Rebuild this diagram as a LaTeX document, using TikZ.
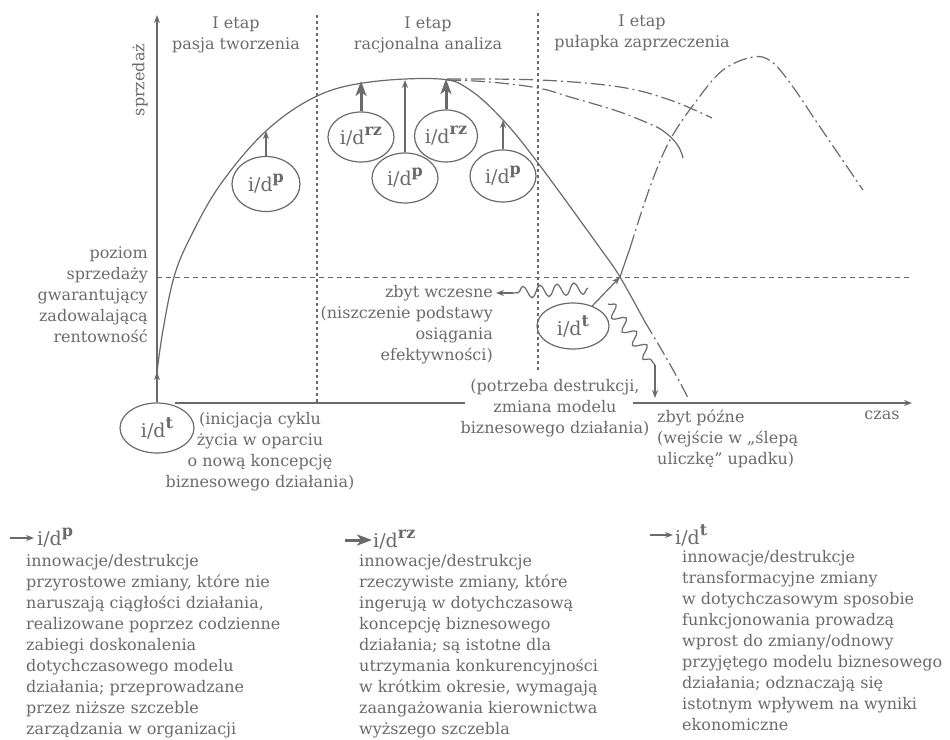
\documentclass[tikz,border=0pt]{standalone}
\usepackage{fontspec}
\setmainfont{DejaVu Serif}
\usetikzlibrary{arrows.meta,shapes.geometric,decorations.pathmorphing}
\definecolor{ink}{HTML}{6A6A6A}
\newcommand{\idlab}[1]{i/d\raisebox{9pt}{\fontsize{16}{16}\selectfont\bfseries #1}}
\begin{document}
\begin{tikzpicture}[x=1pt,y=-1pt,
  every node/.style={text=ink, font=\fontsize{16}{21}\selectfont, inner sep=0pt},
  line/.style={draw=ink, line width=1.2pt},
  oval/.style={ellipse, draw=ink, line width=1.2pt, font=\fontsize{19}{19}\selectfont, inner sep=0pt},
  idhead/.style={font=\fontsize{19}{19}\selectfont, anchor=west},
  tip/.style={arrows={-Stealth[length=8pt,width=6pt]}},
  bigtip/.style={draw=ink, line width=3pt, arrows={-Stealth[length=15pt,width=11pt,inset=4pt]}},
  dashdot/.style={dash pattern=on 14pt off 4pt on 2pt off 4pt},
  dotline/.style={draw=ink, line width=1.2pt, dash pattern=on 3pt off 3pt},
  levelline/.style={draw=ink, line width=1pt, dash pattern=on 5pt off 4pt},
  wave/.style={line, decorate, decoration={snake, segment length=17pt, amplitude=6pt}}
]
\useasboundingbox (0,0) rectangle (950,739);

% coordinates
\coordinate (ytop) at (157,15);
\coordinate (cstart) at (157,372);
\coordinate (xl0) at (175,403);
\coordinate (xl1) at (465,403);
\coordinate (xr0) at (633,403);
\coordinate (xr1) at (912,403);
\coordinate (cross) at (620,277);
\coordinate (c1) at (266,131);
\coordinate (c2) at (361,81);
\coordinate (c3) at (405,80);
\coordinate (c4) at (446,79);
\coordinate (c5) at (503,120);

% guide lines
\draw[dotline] (317,15) -- (317,403);
\draw[dotline] (538,13) -- (538,372);
\draw[levelline] (157,277) -- (912,277);

% ellipses
\node[oval, minimum width=74pt, minimum height=50pt] (t1) at (157,428) {\idlab{t}};
\node[oval, minimum width=68pt, minimum height=55pt] (p1) at (266,184) {\idlab{p}};
\node[oval, minimum width=66pt, minimum height=50pt] (rz1) at (361,137) {\idlab{rz}};
\node[oval, minimum width=66pt, minimum height=50pt] (p2) at (405,178) {\idlab{p}};
\node[oval, minimum width=63pt, minimum height=52pt] (rz2) at (446,136) {\idlab{rz}};
\node[oval, minimum width=66pt, minimum height=52pt] (p3) at (503,176) {\idlab{p}};
\node[oval, minimum width=72pt, minimum height=46pt] (t2) at (573,326) {\idlab{t}};

% axes
\draw[line, tip] (t1.north) -- (ytop);
\draw[line, tip] (t1.north) -- (cstart);
\draw[line] (xl0) -- (xl1);
\draw[line, tip] (xr0) -- (xr1);

% main curve
\draw[line] plot[smooth, tension=0.6] coordinates {(157,372) (163,330) (174,277) (190,238) (220,185) (266,131) (317,96) (370,82) (440,79) (470,90) (503,120) (538,163) (600,248) (620,277) (645,322)};
\draw[line, dashdot] (645,322) .. controls (665,355) and (678,378) .. (688,398);

% alternative curves
\draw[line, dashdot] plot[smooth, tension=0.6] coordinates {(447,79) (540,80) (620,87) (670,100) (712,118)};
\draw[line, dashdot] plot[smooth, tension=0.6] coordinates {(447,80) (490,82) (538,88) (570,97) (620,112) (657,127)};
\draw[line] (657,127) .. controls (672,136) and (680,145) .. (683,158);
\draw[line] (cross) -- (630,248);
\draw[line, dashdot] plot[smooth, tension=0.6] coordinates {(630,248) (650,187) (670,140) (697,100) (723,70) (753,57) (772,62) (793,87) (820,127) (863,190)};

% impulses
\draw[line, tip] (p1) -- (c1);
\draw[bigtip] (rz1) -- (c2);
\draw[line, tip] (p2) -- (c3);
\draw[bigtip] (rz2) -- (c4);
\draw[line, tip] (p3) -- (c5);
\draw[line, tip] (t2) -- (cross);

% waves
\coordinate (w1s) at (588,288);
\coordinate (w1e) at (513,293);
\coordinate (w1t) at (496,293);
\draw[wave] (w1s) -- (w1e);
\draw[line, tip] (w1e) -- (w1t);
\coordinate (w2s) at (608,304);
\coordinate (w2e) at (655,365);
\coordinate (w2t) at (655,398);
\draw[wave] (w2s) -- (w2e);
\draw[line, tip] (w2e) -- (w2t);

% labels
\node[rotate=90] (yl) at (140,80) {sprzedaż};
\node[align=center] (s1) at (236,35) {I etap\\pasja tworzenia};
\node[align=center] (s2) at (428,35) {I etap\\racjonalna analiza};
\node[align=center] (s3) at (642,33) {I etap\\pułapka zaprzeczenia};
\node[align=right, anchor=east] (lvl) at (148,295) {poziom\\sprzedaży\\gwarantujący\\zadowalającą\\rentowność};
\node[align=right, anchor=east] (early) at (493,325) {zbyt wczesne\\(niszczenie podstawy\\osiągania\\efektywności)};
\node[align=center] (init) at (260,452) {(inicjacja cyklu\\życia w oparciu\\o nową koncepcję\\biznesowego działania)};
\node[align=center] (need) at (555,408) {(potrzeba destrukcji,\\zmiana modelu\\biznesowego działania)};
\node[align=left, anchor=west] (late) at (657,439) {zbyt późne\\(wejście w „ślepą\\uliczkę” upadku)};
\node (czas) at (882,415) {czas};

% legend
\coordinate (la0) at (10,538);
\coordinate (la1) at (34,538);
\draw[line, tip] (la0) -- (la1);
\node[idhead] (h1) at (37,538) {\idlab{p}};
\coordinate (lb0) at (345,540);
\coordinate (lb1) at (372,540);
\draw[bigtip] (lb0) -- (lb1);
\node[idhead] (h2) at (373,540) {\idlab{rz}};
\coordinate (lc0) at (650,535);
\coordinate (lc1) at (673,535);
\draw[line, tip] (lc0) -- (lc1);
\node[idhead] (h3) at (675,535) {\idlab{t}};

\node[anchor=north west, align=left] (d1) at (26,554) {innowacje/destrukcje\\przyrostowe zmiany, które nie\\naruszają ciągłości działania,\\realizowane poprzez codzienne\\zabiegi doskonalenia\\dotychczasowego modelu\\działania; przeprowadzane\\przez niższe szczeble\\zarządzania w organizacji};
\node[anchor=north west, align=left] (d2) at (359,554) {innowacje/destrukcje\\rzeczywiste zmiany, które\\ingerują w dotychczasową\\koncepcję biznesowego\\działania; są istotne dla\\utrzymania konkurencyjności\\w krótkim okresie, wymagają\\zaangażowania kierownictwa\\wyższego szczebla};
\node[anchor=north west, align=left] (d3) at (682,550) {innowacje/destrukcje\\transformacyjne zmiany\\w dotychczasowym sposobie\\funkcjonowania prowadzą\\wprost do zmiany/odnowy\\przyjętego modelu biznesowego\\działania; odznaczają się\\istotnym wpływem na wyniki\\ekonomiczne};
\end{tikzpicture}
\end{document}
